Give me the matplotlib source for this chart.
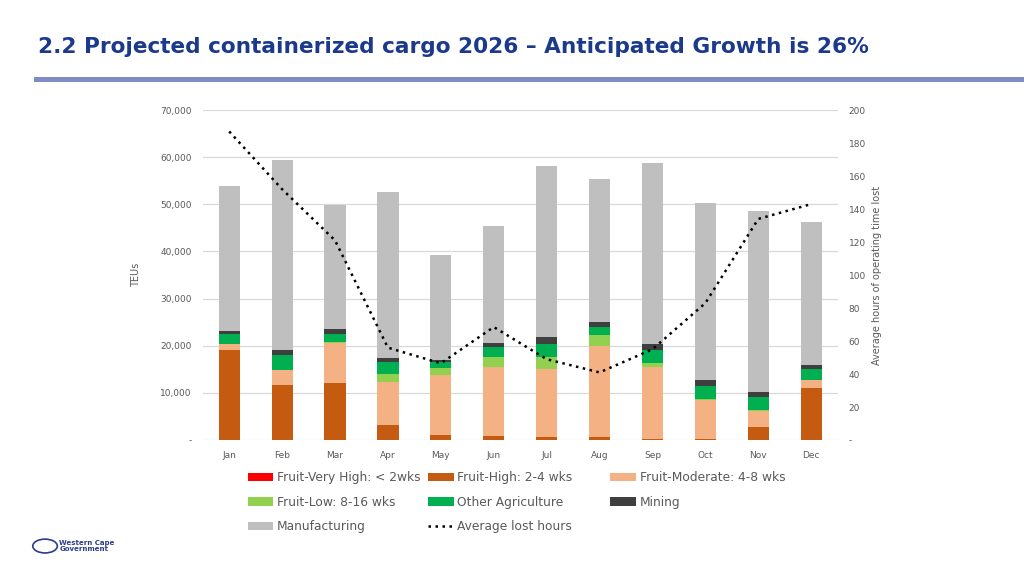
"""Projected containerized cargo 2026 by month, with average lost hours."""
import matplotlib
matplotlib.use("Agg")
import matplotlib.pyplot as plt
from matplotlib.patches import Rectangle, Circle
import numpy as np

months = ['Jan', 'Feb', 'Mar', 'Apr', 'May', 'Jun',
          'Jul', 'Aug', 'Sep', 'Oct', 'Nov', 'Dec']

# TEUs per category
fruit_very_high = [0, 0, 0, 0, 0, 0, 0, 0, 0, 0, 0, 0]
fruit_high = [19000, 11600, 12200, 3300, 1100, 900, 700, 600, 300, 150, 2800, 11100]
fruit_moderate = [1400, 3300, 8300, 9000, 12600, 14700, 14400, 19400, 15100, 8350, 3400, 1700]
fruit_low = [0, 0, 300, 1800, 1500, 2100, 2600, 2200, 1000, 300, 200, 0]
other_agri = [2000, 3200, 1800, 2500, 1300, 2100, 2700, 1800, 2600, 2600, 2700, 2200]
mining = [800, 1000, 1000, 900, 500, 800, 1400, 1000, 1400, 1300, 1100, 1000]
manufacturing = [30700, 40300, 26200, 35200, 22300, 24800, 36400, 30300, 38300, 37600, 38300, 30200]

avg_lost_hours = [187, 152, 121, 56, 46.5, 68.5, 49, 41, 55, 83, 134, 143]

series = [
    ('Fruit-Very High: < 2wks', fruit_very_high, '#FF0000'),
    ('Fruit-High: 2-4 wks', fruit_high, '#C55A11'),
    ('Fruit-Moderate: 4-8 wks', fruit_moderate, '#F4B183'),
    ('Fruit-Low: 8-16 wks', fruit_low, '#92D050'),
    ('Other Agriculture', other_agri, '#00B050'),
    ('Mining', mining, '#3F3F3F'),
    ('Manufacturing', manufacturing, '#BFBFBF'),
]

grey = '#595959'
fig = plt.figure(figsize=(10.24, 5.76), dpi=100)
ax = fig.add_axes([0.198, 0.236, 0.62, 0.573])

x = np.arange(len(months))
bottom = np.zeros(len(months))
handles = {}
for name, vals, color in series:
    vals = np.array(vals, dtype=float)
    b = ax.bar(x, vals, 0.4, bottom=bottom, color=color, edgecolor='none',
               label=name, zorder=3)
    handles[name] = b
    bottom += vals

ax.set_ylim(0, 70000)
ax.set_xlim(-0.5, len(months) - 0.5)
ax.set_yticks(np.arange(0, 70001, 10000))
ax.set_yticklabels(['-'] + ['{:,}'.format(v) for v in range(10000, 70001, 10000)])
ax.set_xticks(x)
ax.set_xticklabels(months)
ax.tick_params(axis='both', length=0, labelsize=6.5, colors=grey, pad=8)
ax.yaxis.grid(True, color='#D9D9D9', linewidth=0.9, zorder=0)
ax.set_axisbelow(True)
for s in ax.spines.values():
    s.set_visible(False)
ax.set_ylabel('TEUs', fontsize=7, color=grey, labelpad=14)

ax2 = ax.twinx()
line, = ax2.plot(x, avg_lost_hours, color='black', linestyle=(0, (1, 1.8)),
                 linewidth=1.8, label='Average lost hours', zorder=5)
ax2.set_ylim(0, 200)
ax2.set_yticks(np.arange(0, 201, 20))
ax2.set_yticklabels(['-'] + [str(v) for v in range(20, 201, 20)])
ax2.tick_params(axis='y', length=0, labelsize=6.5, colors=grey, pad=8)
for s in ax2.spines.values():
    s.set_visible(False)
ax2.set_ylabel('Average hours of operating time lost', fontsize=7, color=grey,
               labelpad=4)

# legend: three separate columns, laid out row by row like the original
handles['Average lost hours'] = line
columns = [
    (0.242, ['Fruit-Very High: < 2wks', 'Fruit-Low: 8-16 wks', 'Manufacturing']),
    (0.418, ['Fruit-High: 2-4 wks', 'Other Agriculture', 'Average lost hours']),
    (0.596, ['Fruit-Moderate: 4-8 wks', 'Mining']),
]
for xpos, names in columns:
    leg = fig.legend([handles[k] for k in names], names, frameon=False,
                     loc='upper left', bbox_to_anchor=(xpos, 0.182),
                     fontsize=8.8, labelcolor=grey, handlelength=2.1,
                     handleheight=0.65, handletextpad=0.3, labelspacing=0.95,
                     borderaxespad=0, borderpad=0)

# title and header rule
fig.text(0.037, 0.918, '2.2 Projected containerized cargo 2026 \u2013 Anticipated Growth is 26%',
         fontsize=15.6, fontweight='bold', color='#1B3A8C', va='center', ha='left')
fig.add_artist(Rectangle((0.033, 0.857), 0.967, 0.01, transform=fig.transFigure,
                         color='#7F8CC3', linewidth=0))

# small logo block
fig.add_artist(Circle((0.044, 0.052), 0.012, transform=fig.transFigure,
                      facecolor='white', edgecolor='#2A3C8E', linewidth=1.2))
fig.text(0.058, 0.052, 'Western Cape\nGovernment', fontsize=5, fontweight='bold',
         color='#2A3C8E', va='center', ha='left', linespacing=1.0)

fig.savefig('out.png', dpi=100)
